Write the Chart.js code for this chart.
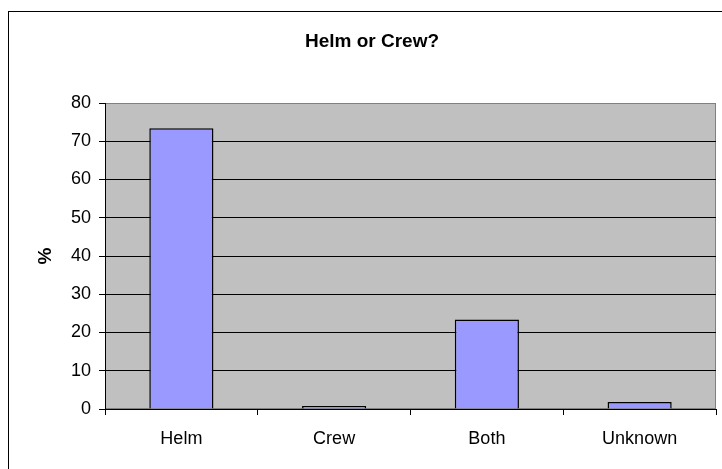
<!DOCTYPE html>
<html>
<head>
<meta charset="utf-8">
<script src="https://cdn.jsdelivr.net/npm/chart.js@4/dist/chart.umd.min.js"></script>
<style>
html,body{margin:0;padding:0;background:#fff;}
#wrap{width:722px;height:469px;position:relative;}
</style>
</head>
<body>
<div id="wrap"><canvas id="c" width="722" height="469"></canvas></div>
<script>
const categories = ["Helm", "Crew", "Both", "Unknown"];
const percentValues = [73.4, 0.8, 23.4, 1.8];
const chartTitle = "Helm or Crew?";
const yAxisTitle = "%";
const yMin = 0, yMax = 80, yStep = 10;

const FONT = "'Liberation Sans', Arial, sans-serif";

const framePlugin = {
  id: 'frame',
  beforeDraw(chart) {
    const ctx = chart.ctx;
    const a = chart.chartArea;
    ctx.save();
    ctx.fillStyle = '#fff';
    ctx.fillRect(0, 0, chart.width, chart.height);
    ctx.strokeStyle = '#000';
    ctx.lineWidth = 1;
    ctx.strokeRect(8.5, 11.5, 900, 900);
    ctx.fillStyle = '#C0C0C0';
    ctx.fillRect(a.left, a.top, a.right - a.left, a.bottom - a.top);
    ctx.strokeStyle = '#808080';
    ctx.lineWidth = 1;
    ctx.strokeRect(a.left + 0.5, a.top + 0.5, a.right - a.left - 1, a.bottom - a.top - 1);
    ctx.fillStyle = '#000';
    ctx.font = "bold 19px " + FONT;
    ctx.textAlign = 'center';
    ctx.textBaseline = 'alphabetic';
    ctx.fillText(chartTitle, 372, 47);
    ctx.restore();
  }
};

new Chart(document.getElementById('c'), {
  type: 'bar',
  data: {
    labels: categories,
    datasets: [{
      data: percentValues,
      backgroundColor: '#9999FF',
      borderColor: '#000',
      borderWidth: 1.5,
      categoryPercentage: 1,
      barPercentage: 0.42
    }]
  },
  options: {
    responsive: false,
    animation: false,
    devicePixelRatio: 1,
    layout: { padding: { top: 103, right: 6, bottom: 0, left: 0 } },
    plugins: { legend: { display: false }, title: { display: false }, tooltip: { enabled: false } },
    scales: {
      x: {
        grid: { offset: true, drawOnChartArea: false, drawTicks: true, tickLength: 6, color: '#000' },
        border: { color: '#000', width: 1 },
        ticks: { color: '#000', font: { family: FONT, size: 18 }, padding: 13, maxRotation: 0 },
        afterFit(s) { s.height = 60; }
      },
      y: {
        min: yMin, max: yMax,
        grid: {
          color: (c) => (c.tick && c.tick.value === yMax) ? '#808080' : '#000',
          tickLength: 6, tickColor: '#000'
        },
        border: { color: '#000', width: 1 },
        ticks: { stepSize: yStep, color: '#000', font: { family: FONT, size: 18 }, padding: 8 },
        title: { display: true, text: yAxisTitle, color: '#000', font: { family: FONT, size: 19, weight: 'bold' }, padding: { top: 34, bottom: 0 } },
        afterFit(s) { s.width = 105; }
      }
    }
  },
  plugins: [framePlugin]
});
</script>
</body>
</html>
